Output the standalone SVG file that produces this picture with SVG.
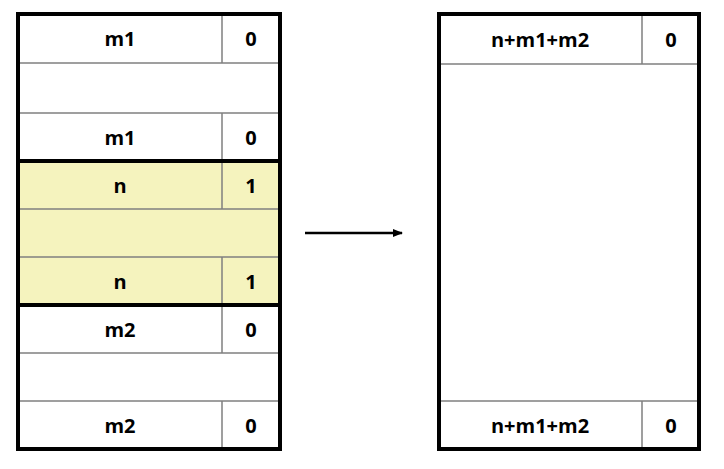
<svg xmlns="http://www.w3.org/2000/svg" width="724" height="469" viewBox="0 0 724 469">
<style>
.t{font-family:"Open Sans","Liberation Sans",sans-serif;font-weight:bold;font-size:20px;text-anchor:middle;fill:#000}
.th{stroke:#808080;stroke-width:1.5;fill:none}
.bd{stroke:#000;stroke-width:4;fill:none}
</style>
<defs><marker id="ah" markerWidth="10" markerHeight="8" refX="9" refY="4" orient="auto" markerUnits="userSpaceOnUse"><path d="M0,0L10,4L0,8z" fill="#000"/></marker></defs>
<rect width="724" height="469" fill="#fff"/>
<g id="left">
<rect x="18" y="161" width="262" height="144" fill="#F5F3BE"/>
<path class="th" d="M18,63H280M18,113H280M18,209H280M18,257H280M18,353H280M18,401H280M222,14V63M222,113V209M222,257V353M222,401V449"/>
<path class="bd" d="M18,161H280M18,305H280"/>
<rect class="bd" x="18" y="14" width="262" height="435"/>
<text class="t" x="120" y="46">m1</text><text class="t" x="251" y="46">0</text>
<text class="t" x="120" y="145">m1</text><text class="t" x="251" y="145">0</text>
<text class="t" x="120" y="193">n</text><text class="t" x="251" y="193">1</text>
<text class="t" x="120" y="289">n</text><text class="t" x="251" y="289">1</text>
<text class="t" x="120" y="337">m2</text><text class="t" x="251" y="337">0</text>
<text class="t" x="120" y="433">m2</text><text class="t" x="251" y="433">0</text>
</g>
<g id="right">
<path class="th" d="M439,64H699M439,401H699M642,14V64M642,401V449"/>
<rect class="bd" x="439" y="14" width="260" height="435"/>
<text class="t" x="540" y="47">n+m1+m2</text><text class="t" x="671" y="47">0</text>
<text class="t" x="540" y="433">n+m1+m2</text><text class="t" x="671" y="433">0</text>
</g>
<g id="connectors">
<line x1="305" y1="233" x2="402" y2="233" stroke="#000" stroke-width="2.5" marker-end="url(#ah)"/>
</g>
</svg>
